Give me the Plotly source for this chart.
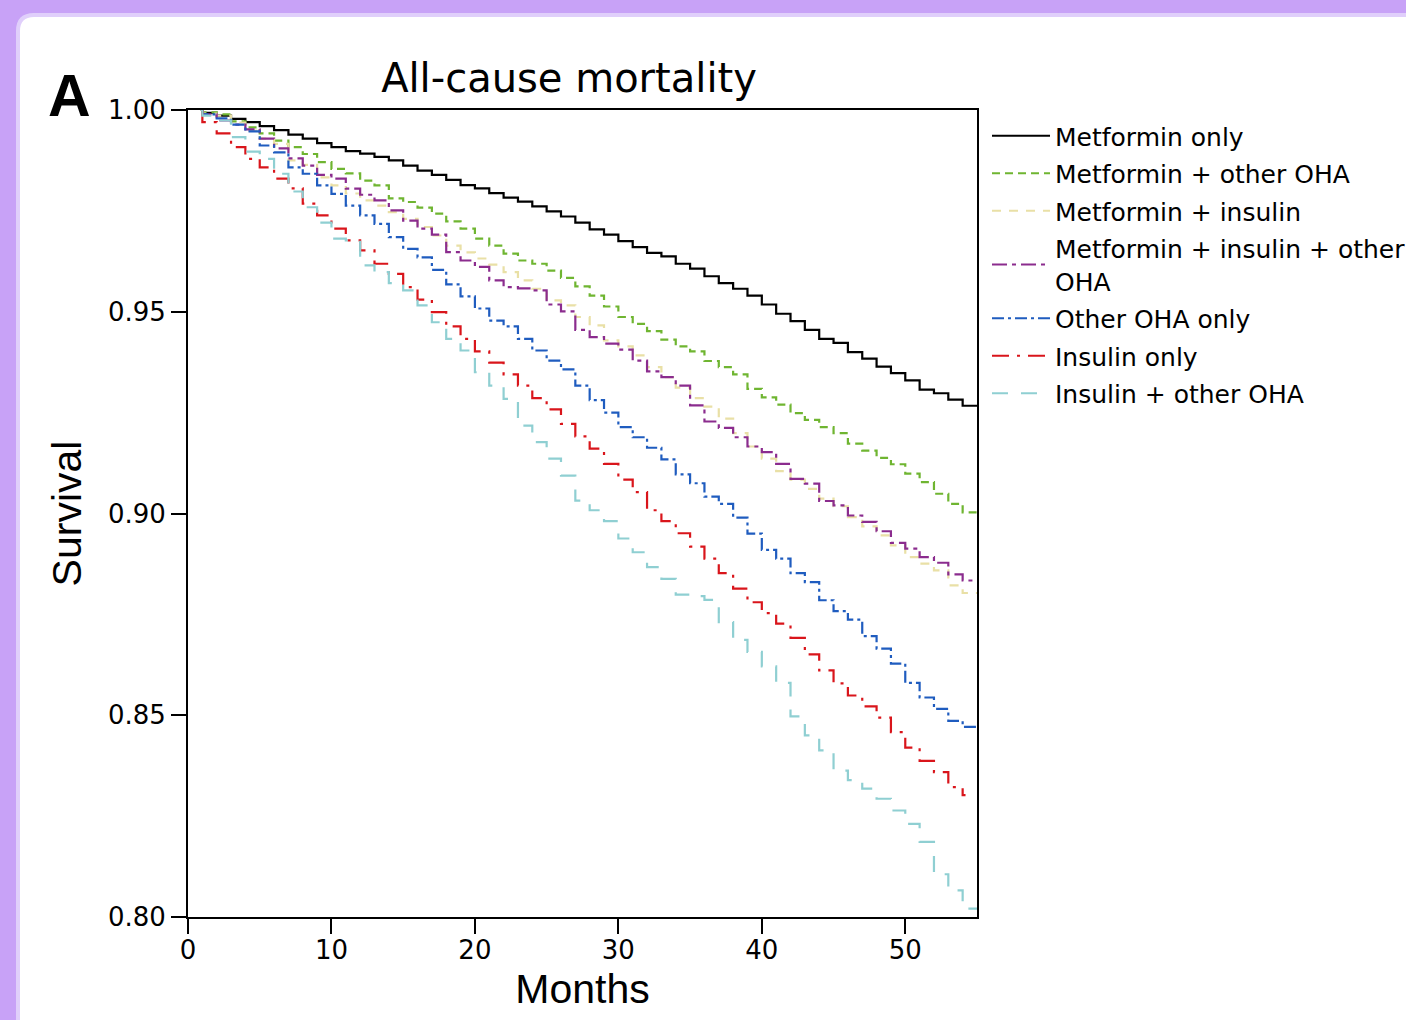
import plotly.graph_objects as go

# ---------------- data (Kaplan-Meier survival) ----------------
event_months = [0.9] + list(range(1, 55))   # step times (first follow-up ~0.9 month)
end_month = 55
insulin_only_end = 54.2

series_names = [
    "Metformin only",
    "Metformin + other OHA",
    "Metformin + insulin",
    "Metformin + insulin + other<br>OHA",
    "Other OHA only",
    "Insulin only",
    "Insulin + other OHA",
]

metformin_only = [
    1.0000, 0.9993, 0.9986, 0.9978, 0.9970, 0.9960, 0.9950, 0.9939, 0.9929, 0.9918,
    0.9908, 0.9898, 0.9892, 0.9884, 0.9875, 0.9862, 0.9850, 0.9839, 0.9827, 0.9814,
    0.9806, 0.9794, 0.9783, 0.9773, 0.9761, 0.9749, 0.9736, 0.9721, 0.9704, 0.9691,
    0.9675, 0.9660, 0.9646, 0.9637, 0.9619, 0.9607, 0.9588, 0.9571, 0.9557, 0.9540,
    0.9518, 0.9495, 0.9477, 0.9455, 0.9433, 0.9423, 0.9400, 0.9384, 0.9364, 0.9348,
    0.9330, 0.9307, 0.9298, 0.9282, 0.9267,
]
metformin_other_oha = [
    1.0000, 0.9994, 0.9989, 0.9972, 0.9957, 0.9942, 0.9924, 0.9908, 0.9891, 0.9871,
    0.9854, 0.9843, 0.9825, 0.9813, 0.9781, 0.9772, 0.9758, 0.9743, 0.9724, 0.9706,
    0.9681, 0.9664, 0.9644, 0.9627, 0.9619, 0.9602, 0.9584, 0.9563, 0.9540, 0.9513,
    0.9487, 0.9470, 0.9452, 0.9431, 0.9414, 0.9402, 0.9378, 0.9363, 0.9345, 0.9309,
    0.9288, 0.9270, 0.9249, 0.9232, 0.9214, 0.9199, 0.9173, 0.9156, 0.9138, 0.9122,
    0.9099, 0.9078, 0.9049, 0.9024, 0.9003,
]
metformin_insulin = [
    1.0000, 0.9991, 0.9986, 0.9969, 0.9949, 0.9929, 0.9916, 0.9875, 0.9864, 0.9833,
    0.9813, 0.9793, 0.9776, 0.9763, 0.9747, 0.9730, 0.9710, 0.9689, 0.9664, 0.9647,
    0.9632, 0.9617, 0.9598, 0.9578, 0.9557, 0.9528, 0.9516, 0.9487, 0.9466, 0.9429,
    0.9414, 0.9392, 0.9363, 0.9338, 0.9312, 0.9286, 0.9265, 0.9235, 0.9199, 0.9166,
    0.9136, 0.9105, 0.9084, 0.9061, 0.9037, 0.9018, 0.8991, 0.8968, 0.8946, 0.8921,
    0.8892, 0.8876, 0.8859, 0.8822, 0.8803,
]
metformin_insulin_other = [
    1.0000, 0.9989, 0.9974, 0.9964, 0.9952, 0.9929, 0.9905, 0.9880, 0.9862, 0.9839,
    0.9830, 0.9805, 0.9790, 0.9776, 0.9751, 0.9726, 0.9706, 0.9691, 0.9648, 0.9627,
    0.9611, 0.9578, 0.9561, 0.9558, 0.9553, 0.9518, 0.9501, 0.9455, 0.9437, 0.9421,
    0.9406, 0.9379, 0.9352, 0.9338, 0.9317, 0.9268, 0.9228, 0.9212, 0.9189, 0.9166,
    0.9152, 0.9123, 0.9086, 0.9074, 0.9031, 0.9020, 0.8995, 0.8979, 0.8956, 0.8927,
    0.8913, 0.8892, 0.8878, 0.8849, 0.8834,
]
other_oha_only = [
    1.0000, 0.9989, 0.9979, 0.9964, 0.9947, 0.9912, 0.9895, 0.9858, 0.9842, 0.9813,
    0.9792, 0.9763, 0.9739, 0.9718, 0.9685, 0.9656, 0.9635, 0.9604, 0.9568, 0.9538,
    0.9508, 0.9478, 0.9464, 0.9433, 0.9404, 0.9379, 0.9357, 0.9317, 0.9281, 0.9250,
    0.9214, 0.9189, 0.9163, 0.9134, 0.9097, 0.9075, 0.9042, 0.9024, 0.8990, 0.8950,
    0.8910, 0.8888, 0.8852, 0.8830, 0.8785, 0.8758, 0.8737, 0.8696, 0.8665, 0.8628,
    0.8580, 0.8544, 0.8516, 0.8486, 0.8471,
]
insulin_only = [
    1.0000, 0.9970, 0.9942, 0.9908, 0.9879, 0.9858, 0.9830, 0.9806, 0.9768, 0.9739,
    0.9706, 0.9677, 0.9652, 0.9619, 0.9594, 0.9561, 0.9530, 0.9499, 0.9464, 0.9433,
    0.9402, 0.9374, 0.9345, 0.9317, 0.9286, 0.9258, 0.9222, 0.9191, 0.9161, 0.9123,
    0.9084, 0.9053, 0.9008, 0.8981, 0.8951, 0.8918, 0.8888, 0.8852, 0.8814, 0.8780,
    0.8753, 0.8727, 0.8692, 0.8651, 0.8611, 0.8579, 0.8549, 0.8522, 0.8494, 0.8458,
    0.8420, 0.8387, 0.8359, 0.8322, 0.8302,
]
insulin_other_oha = [
    1.0000, 0.9986, 0.9974, 0.9933, 0.9897, 0.9879, 0.9842, 0.9798, 0.9759, 0.9721,
    0.9681, 0.9677, 0.9615, 0.9598, 0.9571, 0.9553, 0.9516, 0.9474, 0.9433, 0.9404,
    0.9350, 0.9317, 0.9284, 0.9218, 0.9177, 0.9136, 0.9094, 0.9032, 0.9008, 0.8981,
    0.8938, 0.8904, 0.8867, 0.8838, 0.8799, 0.8795, 0.8786, 0.8731, 0.8687, 0.8657,
    0.8621, 0.8580, 0.8497, 0.8450, 0.8413, 0.8363, 0.8339, 0.8318, 0.8293, 0.8264,
    0.8231, 0.8186, 0.8106, 0.8066, 0.8021,
]

x_ticks = [0, 10, 20, 30, 40, 50]
y_ticks = [0.80, 0.85, 0.90, 0.95, 1.00]
y_ticktext = ["0.80", "0.85", "0.90", "0.95", "1.00"]

# ---------------- styles ----------------
all_series = [metformin_only, metformin_other_oha, metformin_insulin,
              metformin_insulin_other, other_oha_only, insulin_only, insulin_other_oha]
colors = ["#000000", "#6fb531", "#e9e0a6", "#8b2c8e", "#1f5cbf", "#d9151b", "#8fcfd2"]
dashes = ["solid", "8px,5px", "9px,8px", "15px,5px,4px,5px",
          "12px,4px,3px,4px", "17px,8px,3px,8px", "16px,13px"]
ends = [end_month] * 5 + [insulin_only_end, end_month]

fig = go.Figure()
for i, (name, vals, col, dsh, e) in enumerate(zip(series_names, all_series, colors, dashes, ends)):
    fig.add_trace(go.Scatter(
        x=event_months + [e], y=vals + [vals[-1]],
        mode="lines", name=name, legendgroup=f"g{i}",
        line=dict(shape="hv", color=col, width=2.2, dash=dsh),
    ))

# geometry helpers for decorative frame (paper coords)
W, H = 1406, 1020
L, R, T, B = 188, 977, 110, 917
def px(xp):
    return (xp - L) / (R - L)
def py(yp):
    return (B - yp) / (B - T)

xl, xr, yt, yb = px(18), px(1440), py(15), py(1050)
rx, ry = 16 / (R - L), 16 / (B - T)
frame_path = (f"M {xl},{yb} L {xl},{yt - ry} Q {xl},{yt} {xl + rx},{yt} "
              f"L {xr},{yt} L {xr},{yb} Z")

axis_common = dict(
    showline=True, linecolor="black", linewidth=2, mirror=True,
    ticks="outside", ticklen=15, tickwidth=1.5, tickcolor="black",
    showgrid=False, zeroline=False,
    tickfont=dict(family="DejaVu Sans", size=26, color="black"),
)

fig.update_layout(
    width=W, height=H, autosize=False,
    margin=dict(l=L, r=W - R, t=T, b=H - B, pad=0, autoexpand=False),
    paper_bgcolor="#c8a2f7",
    plot_bgcolor="white",
    title=dict(text="All-cause mortality", x=569 / W, xref="container", xanchor="center",
               y=1 - 78 / H, yref="container", yanchor="middle",
               font=dict(family="DejaVu Sans", size=40, color="black")),
    xaxis=dict(range=[0, 55], tickvals=x_ticks, ticklabelstandoff=-6, **axis_common,
               title=dict(text="Months", standoff=10,
                          font=dict(family="Liberation Sans, Arial", size=41, color="black"))),
    yaxis=dict(range=[0.8, 1.0], tickvals=y_ticks, ticktext=y_ticktext, **axis_common,
               title=dict(text="Survival", standoff=14,
                          font=dict(family="Liberation Sans, Arial", size=41, color="black"))),
    legend=dict(x=px(987), y=py(113), xanchor="left", yanchor="top",
                font=dict(family="DejaVu Sans", size=25, color="black"),
                bgcolor="rgba(0,0,0,0)", itemwidth=58, tracegroupgap=2),
    shapes=[dict(type="path", path=frame_path, xref="paper", yref="paper",
                 fillcolor="white", line=dict(color="#e0cffb", width=4), layer="below")],
    annotations=[dict(text="<b>A</b>", x=px(69), y=py(96), xref="paper", yref="paper",
                      xanchor="center", yanchor="middle", showarrow=False,
                      font=dict(family="Liberation Sans, Arial", size=59, color="black"))],
)

fig.write_html("out.html")
